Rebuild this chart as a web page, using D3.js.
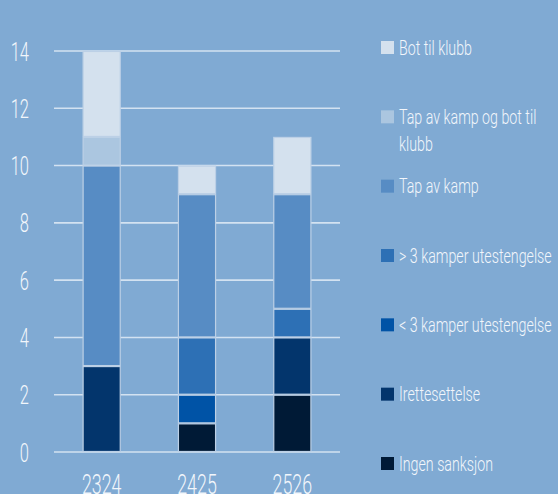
<!DOCTYPE html>
<html>
<head>
<meta charset="utf-8">
<script src="https://cdn.jsdelivr.net/npm/d3@7"></script>
<style>
  body { margin: 0; background: #80aad3; }
  svg { display: block; }
  text { font-family: Roboto, "Open Sans", sans-serif; font-weight: 300; fill: #f2f6fb; }
</style>
</head>
<body>
<div id="chart"></div>
<script>
// Data
var seasons = ["2324", "2425", "2526"];
var categories = ["Ingen sanksjon", "Irettesettelse", "< 3 kamper utestengelse", "> 3 kamper utestengelse",
    "Tap av kamp", "Tap av kamp og bot til klubb", "Bot til klubb"];
var ingenSanksjon = [0, 1, 2];
var irettesettelse = [3, 0, 2];
var under3Kamper = [0, 1, 0];
var over3Kamper = [0, 2, 1];
var tapAvKamp = [7, 5, 4];
var tapOgBot = [1, 0, 0];
var botTilKlubb = [3, 1, 2];
var yTicks = [0, 2, 4, 6, 8, 10, 12, 14];
var colors = ["#001a36", "#03356c", "#0053a6", "#2d70b5", "#578cc4", "#abc6e0", "#d4e1ee"];

var seriesValues = [ingenSanksjon, irettesettelse, under3Kamper, over3Kamper, tapAvKamp, tapOgBot, botTilKlubb];

// table for the stack
var table = seasons.map(function(s, i) {
    var row = { season: s };
    categories.forEach(function(c, j) { row[c] = seriesValues[j][i]; });
    return row;
});

var width = 558, height = 494;
var squeeze = 0.73; // narrow the glyphs to look like a condensed face

var svg = d3.select("#chart").append("svg")
    .attr("width", width)
    .attr("height", height);

//Scales
var x = d3.scaleBand()
    .domain(seasons)
    .range([54, 340])
    .paddingInner(0.6)
    .paddingOuter(0.3);

var y = d3.scaleLinear()
    .domain([0, 14])
    .range([452, 51]);

var color = d3.scaleOrdinal().domain(categories).range(colors);

//Grid lines
svg.append("g")
    .attr("class", "grid")
    .selectAll("line")
    .data(yTicks)
    .enter()
    .append("line")
    .attr("x1", 54)
    .attr("x2", 340)
    .attr("y1", function(d) { return y(d); })
    .attr("y2", function(d) { return y(d); })
    .style("stroke", "#d3e2f1")
    .style("stroke-width", 1.6);

//Y axis labels
var yAxis = d3.axisLeft(y).tickValues(yTicks).tickSize(0).tickPadding(0);
svg.append("g")
    .attr("transform", "translate(29,0)")
    .call(yAxis)
    .call(function(g) { g.select(".domain").remove(); })
    .selectAll("text")
    .attr("x", 0)
    .attr("dy", "0.36em")
    .attr("fill", "#f2f6fb")
    .attr("transform", "scale(0.66,1)")
    .style("font-family", "Roboto, sans-serif")
    .style("font-weight", 300)
    .style("font-size", "25px");

//X axis labels
var xAxis = d3.axisBottom(x).tickSize(0).tickPadding(0);
svg.append("g")
    .attr("transform", "translate(0,475)")
    .call(xAxis)
    .call(function(g) { g.select(".domain").remove(); })
    .selectAll("text")
    .attr("y", 0)
    .attr("dy", "0.71em")
    .attr("fill", "#f2f6fb")
    .attr("transform", "scale(0.66,1)")
    .style("font-family", "Roboto, sans-serif")
    .style("font-weight", 300)
    .style("font-size", "27px");

//Stacked bars
var stack = d3.stack().keys(categories);
var layers = stack(table);

svg.append("g")
    .selectAll("g")
    .data(layers)
    .enter()
    .append("g")
    .style("fill", function(d) { return color(d.key); })
    .selectAll("rect")
    .data(function(d) { return d.filter(function(p) { return p[1] - p[0] > 0; }); })
    .enter()
    .append("rect")
    .attr("x", function(d) { return x(d.data.season) + 0.5; })
    .attr("width", x.bandwidth() - 1)
    .attr("y", function(d) { return y(d[1]) + 0.5; })
    .attr("height", function(d) { return y(d[0]) - y(d[1]) - 1; })
    .style("stroke", "#bcd0e6")
    .style("stroke-width", 1.2);

//Legend (top entry first)
var legendOrder = categories.slice().reverse();
var legendY = d3.scalePoint().domain(legendOrder).range([47.5, 463.5]);

var legend = svg.append("g")
    .selectAll("g")
    .data(legendOrder)
    .enter()
    .append("g")
    .attr("transform", function(d) { return "translate(381," + legendY(d) + ")"; });

legend.append("rect")
    .attr("x", 0)
    .attr("y", -6.5)
    .attr("width", 13)
    .attr("height", 13)
    .style("fill", function(d) { return color(d); });

var maxLegendWidth = 158 / squeeze;

legend.append("g")
    .attr("transform", "translate(18,0) scale(" + squeeze + ",1)")
    .append("text")
    .attr("x", 0)
    .attr("y", 0)
    .style("font-size", "19.5px")
    .each(function(d) {
        var t = d3.select(this);
        var words = d.split(" ");
        var line = [];
        var tspan = t.append("tspan").attr("x", 0).attr("dy", "0.36em");
        words.forEach(function(w) {
            line.push(w);
            tspan.text(line.join(" "));
            if (tspan.node().getComputedTextLength() > maxLegendWidth && line.length > 1) {
                line.pop();
                tspan.text(line.join(" "));
                line = [w];
                tspan = t.append("tspan").attr("x", 0).attr("dy", "27px").text(w);
            }
        });
    });
</script>
</body>
</html>
